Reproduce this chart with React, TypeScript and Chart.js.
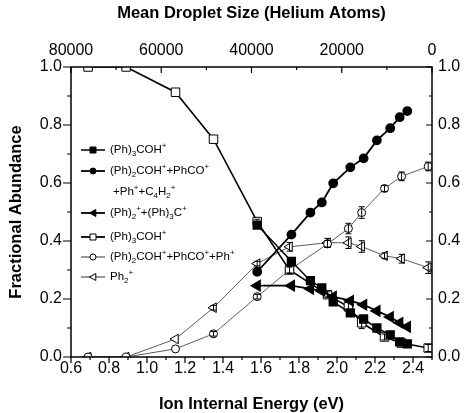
import React, { useEffect, useRef } from "react";
import { Chart, registerables } from "chart.js";
Chart.register(...registerables);

// ---- data ----
const X_FILLED = [1.58, 1.76, 1.86, 1.92, 1.98, 2.07, 2.14, 2.21, 2.28, 2.33, 2.37];
const X_OPEN = [0.69, 0.89, 1.15, 1.35, 1.58, 1.75, 1.95, 2.06, 2.13, 2.25, 2.34, 2.48];

const Y_PH3COH_FILLED = [0.455, 0.33, 0.263, 0.238, 0.19, 0.152, 0.131, 0.1, 0.076, 0.052, 0.045];
const Y_PH2COH_C4H2_FILLED = [0.294, 0.422, 0.498, 0.533, 0.599, 0.654, 0.685, 0.747, 0.789, 0.827, 0.848];
const Y_PH2_PH3C_FILLED = [0.246, 0.246, 0.235, 0.228, 0.208, 0.194, 0.18, 0.159, 0.138, 0.118, 0.104];

const Y_PH3COH_OPEN = [1.0, 1.0, 0.913, 0.751, 0.467, 0.3, 0.215, 0.173, 0.118, 0.069, 0.048, 0.031];
const Y_PH2COH_OPEN = [0.0, 0.0, 0.028, 0.08, 0.208, 0.3, 0.39, 0.443, 0.498, 0.581, 0.623, 0.657];
const Y_PH2_OPEN = [0.0, 0.0, 0.062, 0.17, 0.322, 0.38, 0.394, 0.394, 0.381, 0.349, 0.339, 0.308];

const ERR_PH3COH_OPEN = [0, 0, 0, 0, 0.008, 0.012, 0.01, 0.015, 0.02, 0.01, 0.01, 0.012];
const ERR_PH2COH_OPEN = [0, 0, 0, 0.008, 0.008, 0.01, 0.012, 0.018, 0.02, 0.01, 0.015, 0.015];
const ERR_PH2_OPEN = [0, 0, 0, 0.008, 0.008, 0.015, 0.015, 0.02, 0.02, 0.01, 0.015, 0.02];

const LEGEND_LABELS = [
  ["(Ph)_3COH^+"],
  ["(Ph)_2COH^++PhCO^+", "+Ph^++C_4H_2^+"],
  ["(Ph)_2^++(Ph)_3C^+"],
  ["(Ph)_3COH^+"],
  ["(Ph)_2COH^++PhCO^++Ph^+"],
  ["Ph_2^+"],
];

const X_MAJOR = [0.6, 0.8, 1.0, 1.2, 1.4, 1.6, 1.8, 2.0, 2.2, 2.4];
const X_MINOR = [0.7, 0.9, 1.1, 1.3, 1.5, 1.7, 1.9, 2.1, 2.3, 2.5];
const TOP_MAJOR = [80000, 60000, 40000, 20000, 0];
const TOP_MINOR = [70000, 50000, 30000, 10000];
const Y_MAJOR = [0.0, 0.2, 0.4, 0.6, 0.8, 1.0];
const Y_MINOR = [0.1, 0.3, 0.5, 0.7, 0.9];

const FONT = '"Liberation Sans", Arial, sans-serif';

function pts(xs: number[], ys: number[]) {
  return xs.map((x, i) => ({ x, y: ys[i] }));
}

function parseRich(s: string) {
  const parts: { t: string; k: string }[] = [];
  let buf = "";
  let i = 0;
  while (i < s.length) {
    const c = s[i];
    if (c === "_" || c === "^") {
      if (buf) { parts.push({ t: buf, k: "n" }); buf = ""; }
      parts.push({ t: s[i + 1], k: c === "_" ? "b" : "p" });
      i += 2;
    } else { buf += c; i++; }
  }
  if (buf) parts.push({ t: buf, k: "n" });
  return parts;
}

function drawRich(ctx: CanvasRenderingContext2D, x: number, y: number, s: string, size: number) {
  let cx = x;
  for (const p of parseRich(s)) {
    const fs = p.k === "n" ? size : Math.round(size * 0.68);
    ctx.font = `${fs}px ${FONT}`;
    const dy = p.k === "b" ? size * 0.32 : p.k === "p" ? -size * 0.38 : 0;
    ctx.fillText(p.t, cx, y + dy);
    cx += ctx.measureText(p.t).width;
  }
}

function marker(ctx: CanvasRenderingContext2D, kind: string, filled: boolean, x: number, y: number, r: number) {
  ctx.beginPath();
  if (kind === "rect") {
    ctx.rect(x - r, y - r, 2 * r, 2 * r);
  } else if (kind === "circle") {
    ctx.arc(x, y, r, 0, Math.PI * 2);
  } else {
    ctx.moveTo(x - r, y);
    ctx.lineTo(x + r * 0.8, y - r);
    ctx.lineTo(x + r * 0.8, y + r);
    ctx.closePath();
  }
  ctx.fillStyle = filled ? "#000" : "#fff";
  ctx.fill();
  ctx.lineWidth = 1;
  ctx.strokeStyle = "#000";
  ctx.stroke();
}

const LEGEND_STYLE = [
  { kind: "rect", filled: true, lw: 1.5 },
  { kind: "circle", filled: true, lw: 1.8 },
  { kind: "tri", filled: true, lw: 1.8 },
  { kind: "rect", filled: false, lw: 1.8 },
  { kind: "circle", filled: false, lw: 0.8 },
  { kind: "tri", filled: false, lw: 0.8 },
];
const LEGEND_ROWS = [[150], [171, 192], [213], [237], [257], [277]];

const decorPlugin = {
  id: "decor",
  afterDatasetsDraw(chart: any) {
    const { ctx } = chart;
    const xs = chart.scales.x;
    const ys = chart.scales.y;
    ctx.save();
    ctx.strokeStyle = "#000";
    ctx.lineWidth = 1;
    chart.data.datasets.forEach((ds: any) => {
      if (!ds.errors) return;
      ds.data.forEach((p: any, i: number) => {
        const e = ds.errors[i];
        if (!e) return;
        const px = xs.getPixelForValue(p.x);
        const y1 = ys.getPixelForValue(p.y - e);
        const y2 = ys.getPixelForValue(p.y + e);
        ctx.beginPath();
        ctx.moveTo(px, y1); ctx.lineTo(px, y2);
        ctx.moveTo(px - 3, y1); ctx.lineTo(px + 3, y1);
        ctx.moveTo(px - 3, y2); ctx.lineTo(px + 3, y2);
        ctx.stroke();
      });
    });
    ctx.restore();
  },
  afterDraw(chart: any) {
    const { ctx, chartArea: a, scales } = chart;
    ctx.save();
    ctx.strokeStyle = "#000";
    ctx.lineWidth = 1.5;
    ctx.strokeRect(a.left, a.top, a.right - a.left, a.bottom - a.top);
    ctx.lineWidth = 1.2;
    ctx.beginPath();
    X_MAJOR.forEach((v) => { const p = scales.x.getPixelForValue(v); ctx.moveTo(p, a.bottom); ctx.lineTo(p, a.bottom + 6); });
    X_MINOR.forEach((v) => { const p = scales.x.getPixelForValue(v); ctx.moveTo(p, a.bottom); ctx.lineTo(p, a.bottom + 3); });
    TOP_MAJOR.forEach((v) => { const p = scales.x2.getPixelForValue(v); ctx.moveTo(p, a.top); ctx.lineTo(p, a.top + 6); });
    TOP_MINOR.forEach((v) => { const p = scales.x2.getPixelForValue(v); ctx.moveTo(p, a.top); ctx.lineTo(p, a.top + 3); });
    Y_MAJOR.forEach((v) => { const p = scales.y.getPixelForValue(v); ctx.moveTo(a.left, p); ctx.lineTo(a.left - 8, p); ctx.moveTo(a.right, p); ctx.lineTo(a.right - 6, p); });
    Y_MINOR.forEach((v) => { const p = scales.y.getPixelForValue(v); ctx.moveTo(a.left, p); ctx.lineTo(a.left - 4, p); ctx.moveTo(a.right, p); ctx.lineTo(a.right - 3, p); });
    ctx.stroke();

    // legend
    ctx.textBaseline = "middle";
    ctx.textAlign = "left";
    ctx.fillStyle = "#000";
    LEGEND_LABELS.forEach((lines, i) => {
      const st = LEGEND_STYLE[i];
      const y0 = LEGEND_ROWS[i][0];
      ctx.beginPath();
      ctx.lineWidth = st.lw;
      ctx.strokeStyle = "#000";
      ctx.moveTo(81, y0); ctx.lineTo(105, y0);
      ctx.stroke();
      marker(ctx, st.kind, st.filled, 93, y0, st.kind === "circle" ? 3 : st.kind === "tri" ? 3.5 : 3);
      lines.forEach((txt, j) => {
        ctx.fillStyle = "#000";
        drawRich(ctx, j === 0 ? 110 : 113, LEGEND_ROWS[i][j], txt, 11.5);
      });
    });
    ctx.restore();
  },
};

export default function App() {
  const ref = useRef<HTMLCanvasElement>(null);
  useEffect(() => {
    if (!ref.current) return;
    const tickFont = { family: FONT, size: 16 };
    const titleFont = { family: FONT, size: 16.5, weight: "bold" as const };
    const noGrid = { display: false, drawTicks: false, tickLength: 0 };
    const chart = new Chart(ref.current, {
      type: "line",
      data: {
        datasets: [
          {
            label: "(Ph)3COH+ filled", data: pts(X_FILLED, Y_PH3COH_FILLED), order: 1,
            borderColor: "#000", borderWidth: 1.5, pointStyle: "rect", pointRadius: 5.5,
            pointBackgroundColor: "#000", pointBorderColor: "#000",
          },
          {
            label: "(Ph)2COH+ filled", data: pts(X_FILLED, Y_PH2COH_C4H2_FILLED), order: 2,
            borderColor: "#000", borderWidth: 1.8, pointStyle: "circle", pointRadius: 4,
            pointBackgroundColor: "#000", pointBorderColor: "#000",
          },
          {
            label: "(Ph)2+ filled", data: pts(X_FILLED, Y_PH2_PH3C_FILLED), order: 3,
            borderColor: "#000", borderWidth: 1.8, pointStyle: "triangle", pointRotation: -90, pointRadius: 5.5,
            pointBackgroundColor: "#000", pointBorderColor: "#000",
          },
          {
            label: "(Ph)3COH+ open", data: pts(X_OPEN, Y_PH3COH_OPEN), order: 4, errors: ERR_PH3COH_OPEN,
            borderColor: "#000", borderWidth: 1.6, pointStyle: "rect", pointRadius: 6,
            pointBackgroundColor: "#fff", pointBorderColor: "#000", pointBorderWidth: 1,
          },
          {
            label: "(Ph)2COH+ open", data: pts(X_OPEN, Y_PH2COH_OPEN), order: 5, errors: ERR_PH2COH_OPEN,
            borderColor: "#333", borderWidth: 0.8, pointStyle: "circle", pointRadius: 4,
            pointBackgroundColor: "#fff", pointBorderColor: "#000", pointBorderWidth: 1,
          },
          {
            label: "Ph2+ open", data: pts(X_OPEN, Y_PH2_OPEN), order: 6, errors: ERR_PH2_OPEN,
            borderColor: "#333", borderWidth: 0.8, pointStyle: "triangle", pointRotation: -90, pointRadius: 5.5,
            pointBackgroundColor: "#fff", pointBorderColor: "#000", pointBorderWidth: 1,
          },
        ] as any,
      },
      options: {
        animation: false,
        responsive: false,
        layout: { padding: 0 },
        plugins: { legend: { display: false }, tooltip: { enabled: false } },
        scales: {
          x: {
            type: "linear", position: "bottom", min: 0.6, max: 2.5,
            grid: noGrid, border: { display: false },
            afterBuildTicks: (s: any) => { s.ticks = X_MAJOR.map((v) => ({ value: v })); },
            afterFit: (s: any) => { s.height = 56; },
            ticks: { font: tickFont, color: "#000", padding: 2, maxRotation: 0, callback: (v: any) => Number(v).toFixed(1) },
            title: { display: true, text: "Ion Internal Energy (eV)", font: titleFont, color: "#000", padding: { top: 0, bottom: -1 } },
          },
          x2: {
            type: "linear", position: "top", min: 0, max: 80000, reverse: true,
            grid: noGrid, border: { display: false },
            afterBuildTicks: (s: any) => { s.ticks = TOP_MAJOR.map((v) => ({ value: v })); },
            afterFit: (s: any) => { s.height = 67; },
            ticks: { font: tickFont, color: "#000", padding: 7, maxRotation: 0, callback: (v: any) => String(Math.round(Number(v))) },
            title: { display: true, text: "Mean Droplet Size (Helium Atoms)", font: titleFont, color: "#000", padding: { top: 4, bottom: 0 } },
          },
          y: {
            type: "linear", position: "left", min: 0, max: 1,
            grid: noGrid, border: { display: false },
            afterBuildTicks: (s: any) => { s.ticks = Y_MAJOR.map((v) => ({ value: v })); },
            afterFit: (s: any) => { s.width = 71; },
            ticks: { font: tickFont, color: "#000", padding: 9, callback: (v: any) => Number(v).toFixed(1) },
            title: { display: true, text: "Fractional Abundance", font: titleFont, color: "#000", padding: { top: 7, bottom: 0 } },
          },
          y2: {
            type: "linear", position: "right", min: 0, max: 1,
            grid: noGrid, border: { display: false },
            afterBuildTicks: (s: any) => { s.ticks = Y_MAJOR.map((v) => ({ value: v })); },
            afterFit: (s: any) => { s.width = 34; },
            ticks: { font: tickFont, color: "#000", padding: 6, callback: (v: any) => Number(v).toFixed(1) },
          },
        },
      } as any,
      plugins: [decorPlugin],
    });
    return () => chart.destroy();
  }, []);
  return (
    <div style={{ position: "fixed", left: 0, top: 0, width: 466, height: 413, background: "#fff" }}>
      <canvas ref={ref} width={466} height={413} style={{ width: 466, height: 413 }} />
    </div>
  );
}
